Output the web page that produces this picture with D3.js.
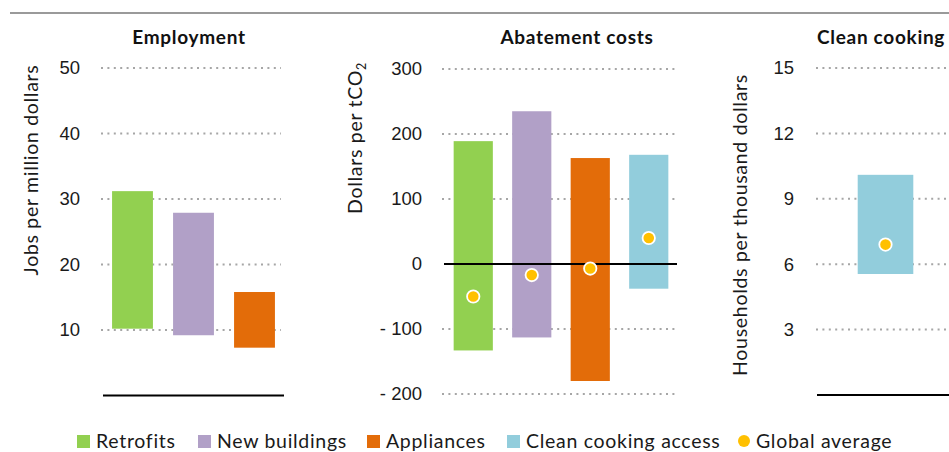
<!DOCTYPE html>
<html>
<head>
<meta charset="utf-8">
<script src="https://cdn.jsdelivr.net/npm/d3@7"></script>
<style>
  body { margin: 0; background: #fff; }
  svg { font-family: Lato, "Open Sans", sans-serif; }
  .tick text { font-size: 18.5px; fill: #1a1a1a; }
  .lbl { font-size: 19.5px; letter-spacing: 0.7px; fill: #1a1a1a; }
</style>
</head>
<body>
<div id="chart"></div>
<script>
// categories and colours
const categories = ["Retrofits", "New buildings", "Appliances", "Clean cooking access"];
const catColors = ["#92D050", "#B1A0C7", "#E36C09", "#92CDDC"];
const avgLabel = "Global average";
const avgColor = "#FFC000";

// Employment (jobs per million dollars)
const empCats = ["Retrofits", "New buildings", "Appliances"];
const empLow = [10.2, 9.2, 7.3];
const empHigh = [31.2, 27.9, 15.8];
const empTicks = [10, 20, 30, 40, 50];

// Abatement costs (dollars per tCO2)
const abCats = ["Retrofits", "New buildings", "Appliances", "Clean cooking access"];
const abLow = [-133, -113, -180, -38];
const abHigh = [189, 235, 163, 168];
const abAvg = [-50, -17, -7, 40];
const abTicks = [-200, -100, 0, 100, 200, 300];

// Clean cooking (households per thousand dollars)
const ccCats = ["Clean cooking access"];
const ccLow = [5.55];
const ccHigh = [10.1];
const ccAvg = [6.9];
const ccTicks = [3, 6, 9, 12, 15];

const width = 949, height = 452;
const svg = d3.select("#chart").append("svg")
  .attr("width", width).attr("height", height);

const color = d3.scaleOrdinal().domain(categories).range(catColors);

// top rule
svg.append("line")
  .attr("x1", 10).attr("x2", width).attr("y1", 13).attr("y2", 13)
  .attr("stroke", "#9a9a9a").attr("stroke-width", 2);

function panel(opt) {
  const g = svg.append("g");
  const x = d3.scaleBand().domain(opt.cats).range(opt.xRange)
    .paddingInner(opt.pi).paddingOuter(opt.po);
  const y = d3.scaleLinear().domain(opt.domain).range(opt.yRange);

  // dotted gridlines
  g.append("g").selectAll("line")
    .data(opt.grid)
    .join("line")
      .attr("x1", opt.gridX[0]).attr("x2", opt.gridX[1])
      .attr("y1", d => y(d)).attr("y2", d => y(d))
      .attr("stroke", "#a6a6a6").attr("stroke-width", 2)
      .attr("stroke-dasharray", "2,4.4");

  // tick labels
  const axis = g.append("g")
    .attr("transform", "translate(" + opt.labelX + ",0)")
    .call(d3.axisLeft(y).tickValues(opt.ticks).tickSize(0).tickPadding(0)
      .tickFormat(d => d < 0 ? "- " + Math.abs(d) : d));
  axis.select(".domain").remove();

  // bars
  g.append("g").selectAll("rect")
    .data(d3.range(opt.cats.length))
    .join("rect")
      .attr("x", i => x(opt.cats[i]))
      .attr("width", x.bandwidth())
      .attr("y", i => y(opt.high[i]))
      .attr("height", i => y(opt.low[i]) - y(opt.high[i]))
      .attr("fill", i => color(opt.cats[i]));

  // baseline
  g.append("line")
    .attr("x1", opt.baseX[0]).attr("x2", opt.baseX[1])
    .attr("y1", y(opt.baseValue)).attr("y2", y(opt.baseValue))
    .attr("stroke", "#000").attr("stroke-width", 2);

  // averages
  if (opt.avg) {
    g.append("g").selectAll("circle")
      .data(d3.range(opt.cats.length))
      .join("circle")
        .attr("cx", i => x(opt.cats[i]) + x.bandwidth() / 2)
        .attr("cy", i => y(opt.avg[i]))
        .attr("r", 6.2)
        .attr("fill", avgColor)
        .attr("stroke", "#fff").attr("stroke-width", 1.8);
  }

  // title
  g.append("text")
    .attr("x", opt.titleX).attr("y", 44)
    .attr("text-anchor", opt.titleAnchor || "middle")
    .style("font-weight", "bold").style("font-size", "19px")
    .style("letter-spacing", "0.7px")
    .style("fill", "#111")
    .text(opt.title);

  // y axis title
  const yt = g.append("text")
    .attr("class", "lbl")
    .attr("transform", "translate(" + opt.yTitleX + "," + opt.yTitleY + ") rotate(-90)")
    .attr("text-anchor", "middle")
    .attr("dy", "0.35em");
  yt.text(opt.yTitle);
  if (opt.yTitleSub) {
    yt.append("tspan").attr("dy", "0.3em").style("font-size", "12.5px").text(opt.yTitleSub);
  }
}

panel({
  title: "Employment", titleX: 189,
  cats: empCats, low: empLow, high: empHigh,
  domain: [0, 50], yRange: [395.5, 68],
  xRange: [102, 285], pi: 0.33, po: 0.165,
  grid: empTicks, gridX: [101, 281], ticks: empTicks, labelX: 80,
  baseX: [103, 284], baseValue: 0,
  yTitle: "Jobs per million dollars", yTitleX: 31, yTitleY: 170
});

panel({
  title: "Abatement costs", titleX: 577,
  cats: abCats, low: abLow, high: abHigh, avg: abAvg,
  domain: [-200, 300], yRange: [394, 69],
  xRange: [444, 678], pi: 0.33, po: 0.165,
  grid: [-200, -100, 100, 200, 300], gridX: [442, 675], ticks: abTicks, labelX: 422,
  baseX: [444, 677], baseValue: 0,
  yTitle: "Dollars per tCO", yTitleSub: "2", yTitleX: 355, yTitleY: 138
});

panel({
  title: "Clean cooking", titleX: 817, titleAnchor: "start",
  cats: ccCats, low: ccLow, high: ccHigh, avg: ccAvg,
  domain: [0, 15], yRange: [395, 68],
  xRange: [816, 955], pi: 0.6, po: 0.3,
  grid: ccTicks, gridX: [816, 952], ticks: ccTicks, labelX: 794,
  baseX: [817, 952], baseValue: 0,
  yTitle: "Households per thousand dollars", yTitleX: 740, yTitleY: 225
});

// legend
const legendX = [77, 198, 367, 507];
const legend = svg.append("g");
categories.forEach((c, i) => {
  legend.append("rect")
    .attr("x", legendX[i]).attr("y", 435).attr("width", 13).attr("height", 13)
    .attr("fill", color(c));
  legend.append("text")
    .attr("class", "lbl")
    .attr("x", legendX[i] + 19).attr("y", 441.5).attr("dy", "0.35em")
    .text(c);
});
legend.append("circle")
  .attr("cx", 744).attr("cy", 441).attr("r", 6).attr("fill", avgColor);
legend.append("text")
  .attr("class", "lbl")
  .attr("x", 756).attr("y", 441.5).attr("dy", "0.35em")
  .text(avgLabel);
</script>
</body>
</html>
